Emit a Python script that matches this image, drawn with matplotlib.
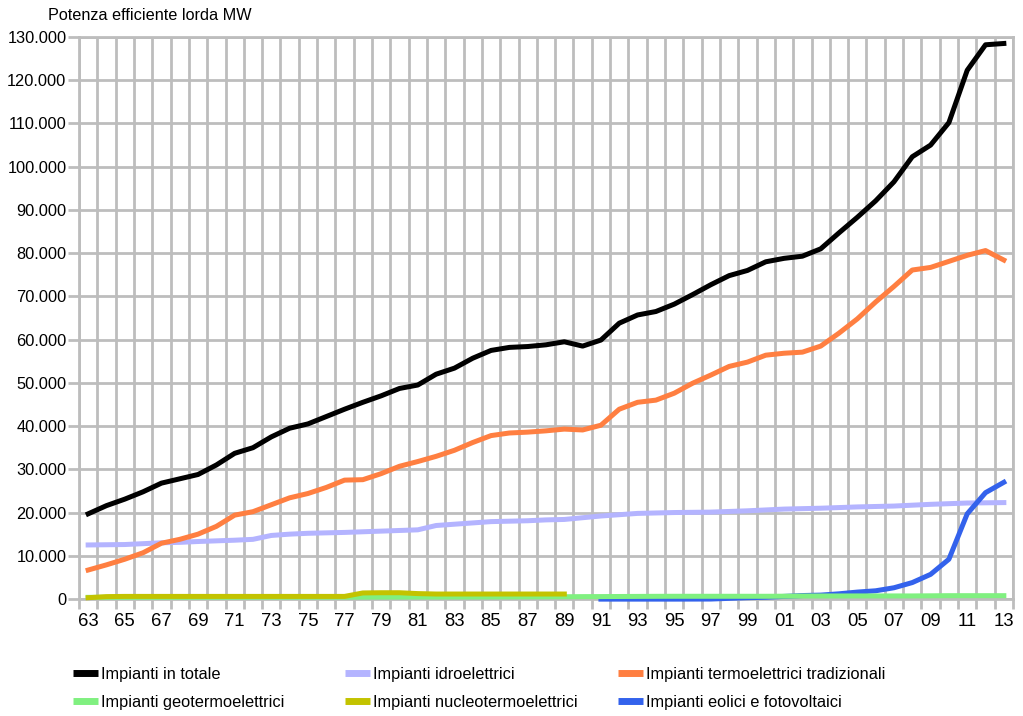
import numpy as np
import matplotlib
matplotlib.use("Agg")
import matplotlib.pyplot as plt
from matplotlib.ticker import FuncFormatter, FixedLocator

plt.rcParams['font.family'] = ['Liberation Sans', 'DejaVu Sans']

# anni 1963-2013
years = list(range(1963, 2014))
year_labels = ['%02d' % (y % 100) for y in years]

# Potenza efficiente lorda (MW)
totale = [19700, 21600, 23100, 24800, 26800, 27800, 28800, 31000, 33700, 35000,
          37500, 39500, 40500, 42200, 43900, 45500, 47000, 48700, 49500, 52000,
          53400, 55700, 57500, 58200, 58400, 58800, 59500, 58500, 59900, 63800,
          65700, 66500, 68200, 70400, 72700, 74800, 76000, 78000, 78800, 79300,
          81000, 84700, 88300, 92100, 96500, 102300, 105000, 110200, 122300, 128200,
          128500]
idro = [12500, 12550, 12600, 12800, 13000, 13100, 13300, 13450, 13600, 13800,
        14700, 15000, 15200, 15300, 15400, 15550, 15700, 15850, 16000, 17000,
        17300, 17600, 17900, 18000, 18100, 18300, 18400, 18800, 19200, 19500,
        19800, 19900, 20000, 20050, 20100, 20250, 20400, 20600, 20800, 20900,
        21000, 21150, 21300, 21400, 21500, 21700, 21900, 22050, 22200, 22250,
        22300]
termo = [6700, 7900, 9200, 10700, 12900, 13800, 15000, 16800, 19400, 20200,
         21800, 23400, 24400, 25800, 27500, 27600, 29000, 30700, 31800, 33000,
         34400, 36200, 37800, 38400, 38600, 38900, 39300, 39100, 40200, 43900,
         45500, 46000, 47600, 49900, 51800, 53800, 54800, 56400, 56850, 57100,
         58500, 61500, 64800, 68700, 72300, 76100, 76700, 78100, 79500, 80600,
         78400]
geo = [380, 390, 390, 400, 400, 400, 410, 410, 410, 420,
       420, 420, 420, 420, 430, 430, 440, 440, 450, 450,
       460, 460, 470, 480, 490, 500, 520, 550, 560, 580,
       600, 620, 630, 630, 630, 630, 630, 630, 650, 690,
       700, 700, 710, 710, 710, 710, 740, 770, 770, 770,
       770]
nucleare = [300, 550, 600, 600, 600, 600, 600, 600, 600, 600,
            600, 600, 600, 600, 600, 1400, 1450, 1450, 1250, 1150,
            1150, 1150, 1150, 1150, 1150, 1150, 1150] + [np.nan] * 24
eolico_fv = [np.nan] * 28 + [-30, -30, -30, -30, -30, -20, -10, 150, 300, 400,
                             600, 800, 900, 1200, 1600, 1900, 2600, 3800, 5700, 9200,
                             19700, 24600, 27000]

x = np.arange(len(years))

fig = plt.figure(figsize=(10.23, 7.16), dpi=100)
ax = fig.add_axes([79 / 1023, 117 / 716, 934 / 1023, 562 / 716])

grid_c = '#bdbdbd'
lw = 3.6
ax.plot(x, totale, color='black', lw=lw, label='Impianti in totale', clip_on=False, zorder=5)
ax.plot(x, idro, color='#b4b4ff', lw=lw, label='Impianti idroelettrici', clip_on=False, zorder=3)
ax.plot(x, termo, color='#ff7f41', lw=lw, label='Impianti termoelettrici tradizionali', clip_on=False, zorder=4)
ax.plot(x, eolico_fv, color='#3362ec', lw=lw, label='Impianti eolici e fotovoltaici', clip_on=False, zorder=3)
ax.plot(x, geo, color='#80f080', lw=lw, label='Impianti geotermoelettrici', clip_on=False, zorder=3.5)
ax.plot(x, nucleare, color='#c3c300', lw=lw, label='Impianti nucleotermoelettrici', clip_on=False, zorder=3.6)

ax.set_xlim(-0.5, len(years) - 0.5)
ax.set_ylim(0, 130000)

ax.set_yticks(np.arange(0, 130001, 10000))
ax.yaxis.set_major_formatter(FuncFormatter(lambda v, p: f"{int(v):,}".replace(',', '.')))
ax.set_xticks(x[::2])
ax.set_xticklabels(year_labels[::2])
ax.xaxis.set_minor_locator(FixedLocator(np.arange(-0.5, len(years), 1.0)))

ax.tick_params(axis='y', which='major', length=8, width=2, color=grid_c, pad=1, labelsize=11.8)
ax.tick_params(axis='x', which='major', length=0, pad=10, labelsize=13.3)
ax.tick_params(axis='x', which='minor', length=7, width=2, color=grid_c)

ax.grid(True, axis='y', which='major', color=grid_c, lw=2)
ax.grid(True, axis='x', which='minor', color=grid_c, lw=2)
ax.set_axisbelow(True)
for s in ax.spines.values():
    s.set_color(grid_c)
    s.set_linewidth(2)

fig.text(48 / 1023, 1 - 15 / 716, 'Potenza efficiente lorda MW', fontsize=11.7, va='center', ha='left')

# legenda su tre colonne
handles, labels = ax.get_legend_handles_labels()
hmap = dict(zip(labels, handles))
cols = [['Impianti in totale', 'Impianti geotermoelettrici'],
        ['Impianti idroelettrici', 'Impianti nucleotermoelettrici'],
        ['Impianti termoelettrici tradizionali', 'Impianti eolici e fotovoltaici']]
col_x = [73, 345, 618]
for cx, col in zip(col_x, cols):
    leg = fig.legend([hmap[c] for c in col], col, loc='upper left',
                     bbox_to_anchor=(cx / 1023, 1 - 667 / 716), frameon=False,
                     fontsize=11.8, handlelength=1.5, handletextpad=0.2,
                     labelspacing=0.78, borderpad=0, borderaxespad=0)
    for ln in leg.get_lines():
        ln.set_linewidth(5)
        ln.set_solid_capstyle('butt')

fig.savefig('out.png', dpi=100)
